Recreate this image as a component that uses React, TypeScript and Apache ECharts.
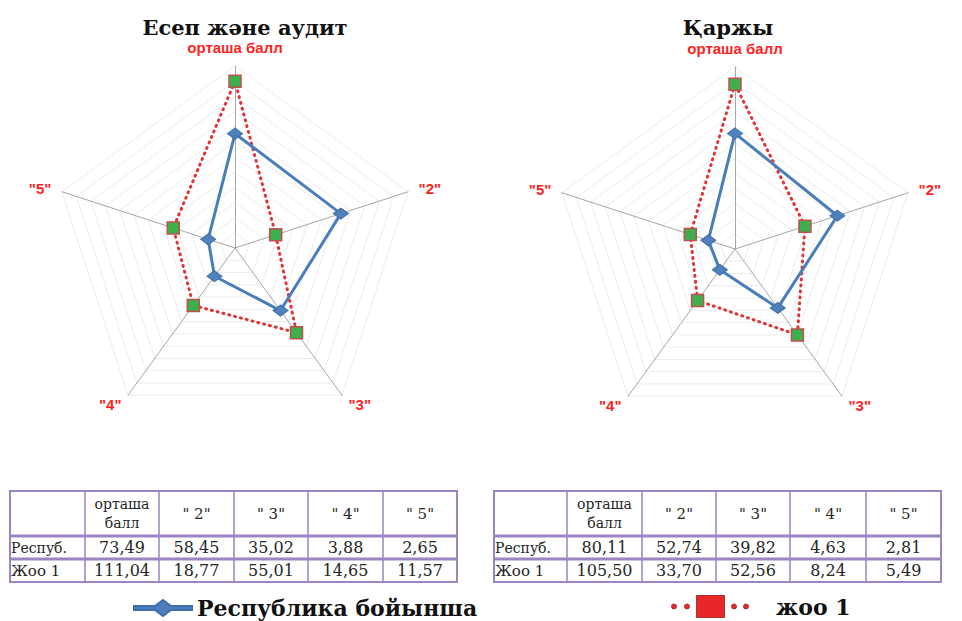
import React, { useEffect, useRef } from "react";
import * as echarts from "echarts";

const indicators = ["орташа балл", '"2"', '"3"', '"4"', '"5"'];
const headerLabels = ["орташа\nбалл", '" 2"', '" 3"', '" 4"', '" 5"'];
const rowLabels = ["Респуб.", "Жоо 1"];
const seriesNames = ["Республика бойынша", "жоо 1"];
const titles = ["Есеп және аудит", "Қаржы"];

// values printed in the tables
const auditRepublic = [73.49, 58.45, 35.02, 3.88, 2.65];
const auditJoo = [111.04, 18.77, 55.01, 14.65, 11.57];
const financeRepublic = [80.11, 52.74, 39.82, 4.63, 2.81];
const financeJoo = [105.5, 33.7, 52.56, 8.24, 5.49];

// values as plotted on the radar pictures (axis 0..120)
const auditRepublicPlot = [75.4, 73.4, 51, 23, 18.6];
const auditJooPlot = [110, 28.2, 69, 46.8, 42.8];
const financeRepublicPlot = [76.2, 71, 48, 17, 18.5];
const financeJooPlot = [108.7, 48.5, 70, 42, 31];

// ECharts lays radar axes counter-clockwise; the reference goes clockwise.
const clockwiseOrder = [0, 4, 3, 2, 1];
const cw = <T,>(arr: T[]) => clockwiseOrder.map((i) => arr[i]);

const fmt = (v: number) => v.toFixed(2).replace(".", ",");
const SERIF = "DejaVu Serif";

const blueIcon = "path://M0,7L21,7L29,1L37,7L58,7L58,11L37,11L29,17L21,11L0,11Z";
const redIcon =
  "path://M0,11a2.5,2.5 0 1,0 5,0a2.5,2.5 0 1,0 -5,0Z" +
  "M13,11a2.5,2.5 0 1,0 5,0a2.5,2.5 0 1,0 -5,0Z" +
  "M25,0L53,0L53,22L25,22Z" +
  "M60,11a2.5,2.5 0 1,0 5,0a2.5,2.5 0 1,0 -5,0Z" +
  "M72,11a2.5,2.5 0 1,0 5,0a2.5,2.5 0 1,0 -5,0Z";

export default function App() {
  const ref = useRef<HTMLDivElement>(null);
  useEffect(() => {
    if (!ref.current) return;
    const chart = echarts.init(ref.current, null, { renderer: "svg" });

    const radarBase = (center: number[]) => ({
      center,
      radius: 182,
      startAngle: 90,
      shape: "polygon",
      splitNumber: 12,
      indicator: cw(indicators).map((n) => ({ name: n, max: 120, min: 0 })),
      nameGap: 11,
      axisName: {
        color: "#ff1f1f",
        fontFamily: "Liberation Sans",
        fontWeight: "bold",
        fontSize: 15,
      },
      axisLine: { lineStyle: { color: "#a6a6a6", width: 1 } },
      splitLine: { lineStyle: { color: "#ececec", width: 1 } },
      splitArea: { show: false },
      axisTick: { show: false },
      axisLabel: { show: false },
    });

    const blueSeries = (radarIndex: number, values: number[]) => ({
      type: "radar",
      radarIndex,
      name: seriesNames[0],
      symbol: "diamond",
      symbolSize: [15, 11],
      lineStyle: { color: "#4a7ebb", width: 3 },
      itemStyle: { color: "#4f81bd", borderColor: "#3d6fa8", borderWidth: 1 },
      data: [{ value: cw(values), name: seriesNames[0] }],
    });
    const redSeries = (radarIndex: number, values: number[]) => ({
      type: "radar",
      radarIndex,
      name: seriesNames[1],
      symbol: "rect",
      symbolSize: 12,
      lineStyle: { color: "#e03434", width: 3, type: [1, 5] as any, cap: "round" },
      itemStyle: { color: "#3cb04c", borderColor: "#c0504d", borderWidth: 1.5 },
      data: [{ value: cw(values), name: seriesNames[1] }],
    });

    const graphics: any[] = [];
    const purple = "#9b84c2";
    const textColor = "#262626";
    const makeTable = (colX: number[], rowY: number[], rep: number[], joo: number[]) => {
      const x0 = colX[0];
      const x1 = colX[colX.length - 1];
      const y0 = rowY[0];
      const y1 = rowY[rowY.length - 1];
      graphics.push({
        type: "rect",
        shape: { x: x0, y: y0, width: x1 - x0, height: y1 - y0 },
        style: { fill: "#fff", stroke: purple, lineWidth: 2 },
      });
      colX.slice(1, -1).forEach((x) =>
        graphics.push({
          type: "line",
          shape: { x1: x, y1: y0, x2: x, y2: y1 },
          style: { stroke: purple, lineWidth: 1.5 },
        })
      );
      rowY.slice(1, -1).forEach((y) =>
        graphics.push({
          type: "line",
          shape: { x1: x0, y1: y, x2: x1, y2: y },
          style: { stroke: purple, lineWidth: 3 },
        })
      );
      const cell = (text: string, ci: number, ri: number, align = "center", size = 16) => {
        const cx = align === "left" ? colX[ci] + 1 : (colX[ci] + colX[ci + 1]) / 2;
        const cy = (rowY[ri] + rowY[ri + 1]) / 2;
        graphics.push({
          type: "text",
          x: cx,
          y: cy,
          style: {
            text,
            fill: textColor,
            fontFamily: SERIF,
            fontSize: size,
            align,
            verticalAlign: "middle",
            lineHeight: 19,
          },
        });
      };
      headerLabels.forEach((h, i) => cell(h, i + 1, 0, "center", i === 0 ? 14 : 15));
      cell(rowLabels[0], 0, 1, "left", 14);
      cell(rowLabels[1], 0, 2, "left", 15);
      rep.forEach((v, i) => cell(fmt(v), i + 1, 1));
      joo.forEach((v, i) => cell(fmt(v), i + 1, 2));
    };
    makeTable([10, 85, 159, 234, 308, 383, 457], [491, 536, 559, 582], auditRepublic, auditJoo);
    makeTable([494, 567, 642, 716, 790, 866, 941], [491, 536, 559, 582], financeRepublic, financeJoo);

    const titleStyle = {
      fontFamily: SERIF,
      fontWeight: "bold" as const,
      fontSize: 21,
      color: "#111",
    };
    const legendText = {
      fontFamily: SERIF,
      fontWeight: "bold" as const,
      fontSize: 22,
      color: "#111",
    };

    chart.setOption({
      animation: false,
      backgroundColor: "#ffffff",
      title: [
        { text: titles[0], left: 240, top: 12, textAlign: "center", textStyle: titleStyle },
        { text: titles[1], left: 723, top: 12, textAlign: "center", textStyle: titleStyle },
      ],
      legend: [
        {
          data: [{ name: seriesNames[0], icon: blueIcon, itemStyle: { color: "#4a7ebb" } }],
          left: 133,
          top: 597,
          padding: 0,
          itemWidth: 58,
          itemHeight: 18,
          itemGap: 10,
          textStyle: legendText,
        },
        {
          data: [{ name: seriesNames[1], icon: redIcon, itemStyle: { color: "#e82828", borderColor: "#a83232", borderWidth: 1 } }],
          left: 671,
          top: 595,
          padding: 0,
          itemWidth: 78,
          itemHeight: 22,
          itemGap: 30,
          textStyle: { ...legendText, padding: [0, 0, 0, 22] },
        },
      ],
      radar: [radarBase([235, 248]), radarBase([735, 249])],
      series: [
        redSeries(0, auditJooPlot),
        blueSeries(0, auditRepublicPlot),
        redSeries(1, financeJooPlot),
        blueSeries(1, financeRepublicPlot),
      ],
      graphic: graphics,
    });

    return () => chart.dispose();
  }, []);

  return <div ref={ref} style={{ position: "fixed", left: 0, top: 0, width: 962, height: 621 }} />;
}
